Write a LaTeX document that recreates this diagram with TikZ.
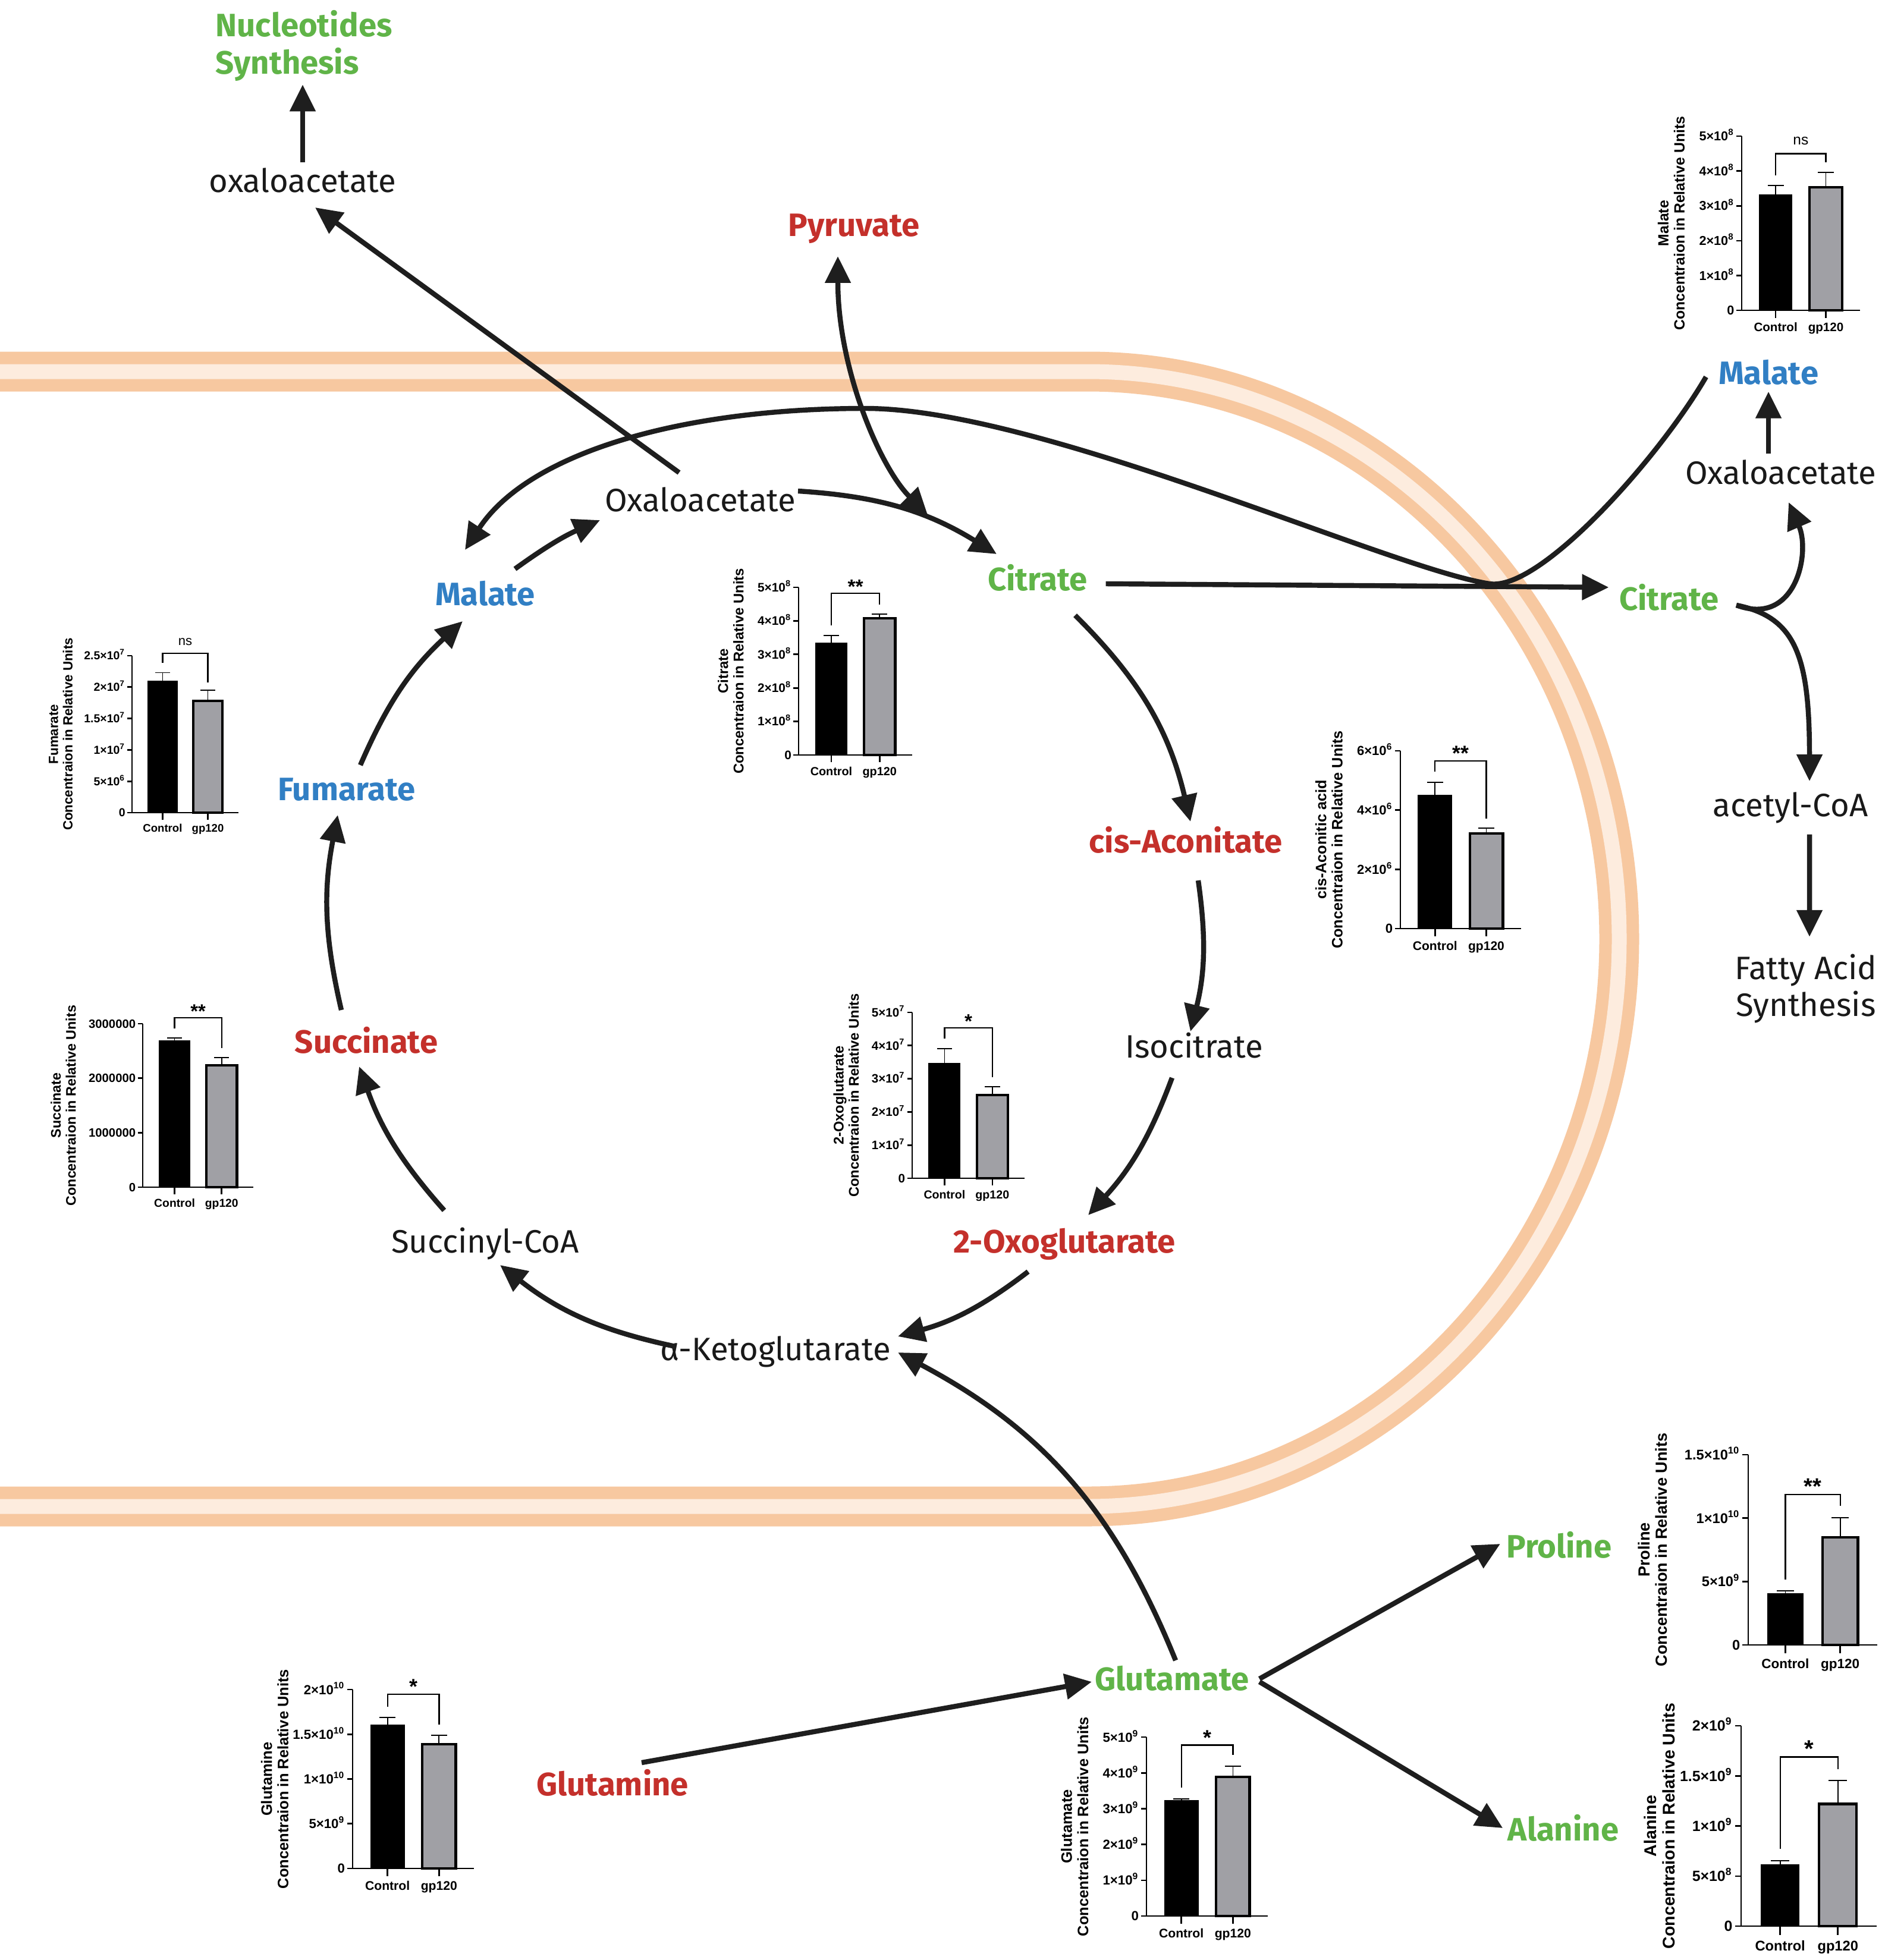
\documentclass[tikz,border=0pt]{standalone}
\usepackage{fontspec}
\setmainfont{Fira Sans}
\newfontfamily\chartfont{Liberation Sans}
\usepackage{tikz}
\usetikzlibrary{arrows.meta,calc,positioning}

\definecolor{metgrn}{RGB}{96,180,72}
\definecolor{metred}{RGB}{196,48,43}
\definecolor{metblu}{RGB}{49,127,196}
\definecolor{txtc}{RGB}{25,25,25}
\definecolor{arrc}{RGB}{30,30,30}
\definecolor{barg}{RGB}{160,160,165}
\definecolor{memb}{RGB}{247,200,160}
\definecolor{membin}{RGB}{253,236,222}

\newcommand{\metfont}{\fontsize{15.5}{17.9}\selectfont}
\newcommand{\tickfont}{\chartfont\fontsize{6.2}{7}\selectfont\bfseries}
\newcommand{\tenp}[1]{×10\textsuperscript{#1}}
\newcommand{\signs}{\fontsize{7}{7}\selectfont\raisebox{0.15cm}{ns}}
\newcommand{\sigst}[1]{\fontsize{10}{10}\selectfont\bfseries #1}

\tikzset{
  arr/.style={line width=2.4pt, draw=arrc, -{Triangle[length=0.45cm,width=0.42cm]}},
  arrboth/.style={arr, {Triangle[length=0.45cm,width=0.42cm]}-{Triangle[length=0.45cm,width=0.42cm]}},
  met/.style={font=\metfont, text=txtc, inner sep=0.05cm, text height=0.45cm, text depth=0.07cm},
  metg/.style={met, font=\metfont\bfseries, text=metgrn},
  metr/.style={met, font=\metfont\bfseries, text=metred},
  metb/.style={met, font=\metfont\bfseries, text=metblu},
  mettwo/.style={font=\metfont, text=txtc, inner sep=0.05cm, align=center},
  axisln/.style={line width=0.75pt},
  errln/.style={line width=0.5pt},
  brkln/.style={line width=0.65pt},
  ticklbl/.style={font=\tickfont, anchor=base east, inner sep=0pt, yshift=-2.2pt},
  xlbl/.style={font=\chartfont\fontsize{5.9}{7}\selectfont\bfseries, anchor=base, inner sep=0pt},
  ylbl/.style={font=\chartfont\fontsize{7.1}{7.7}\selectfont\bfseries, rotate=90, anchor=south, align=center, inner sep=0pt},
  siglbl/.style={font=\chartfont, anchor=base, inner sep=0pt},
}

% bar chart: origin, scale, metabolite, ymax, ticks, bars (ctrl/err/gp120/err), bracket (top/left/right), significance, title offset
\newcommand{\barchart}[9]{%
  \begin{scope}[shift={#1}, scale=#2, transform shape, y={(0,{2.95/#4})}]
    \foreach \tval/\tlab in {#5}{
      \draw[axisln] (-0.09,\tval) -- (0,\tval);
      \node[ticklbl] at (-0.12,\tval) {\tlab};
    }
    \draw[axisln] (0,#4) -- (0,0);
    \draw[axisln] (-0.09,0) -- (2.0,0);
    \foreach \xc/\xl in {0.575/Control,1.425/gp120}{
      \draw[axisln] (\xc,0) -- ++(0pt,-0.13cm);
      \node[xlbl] at ([yshift=-0.36cm]\xc,0) {\xl};
    }
    \foreach \ctl/\cte/\gpv/\gpe in {#6}{
      \fill[black] (0.29,0) rectangle (0.86,\ctl);
      \draw[errln] (0.575,\ctl) -- (0.575,\cte) (0.44,\cte) -- (0.71,\cte);
      \filldraw[fill=barg, line width=1.2pt] (1.15,0) rectangle (1.70,\gpv);
      \draw[errln] (1.425,\gpv) -- (1.425,\gpe) (1.29,\gpe) -- (1.56,\gpe);
    }
    \foreach \bk/\bl/\br in {#7}{
      \draw[brkln] (0.575,\bl) -- (0.575,\bk) -- (1.425,\bk) -- (1.425,\br);
      \node[siglbl] at (1.0,\bk) {#8};
    }
    \node[ylbl] at (#9,{#4/2}) {#3\\Concentraion in Relative Units};
  \end{scope}}

\begin{document}
\begin{tikzpicture}
  \useasboundingbox (0,0) rectangle (31.69,-32.97);
  \fill[white] (0,0) rectangle (31.69,-32.97);

  % mitochondrial membrane
  \draw[line width=0.67cm, draw=memb] (-0.5,-6.25) -- (18.29,-6.25)
    arc[start angle=90, end angle=-90, x radius=8.94, y radius=9.545] -- (-0.5,-25.34);
  \draw[line width=0.25cm, draw=membin] (-0.5,-6.25) -- (18.29,-6.25)
    arc[start angle=90, end angle=-90, x radius=8.94, y radius=9.545] -- (-0.5,-25.34);

  % metabolites
  \node[mettwo, font=\metfont\bfseries, text=metgrn, align=left, anchor=west] (nucl) at (3.57,-0.77) {Nucleotides\\Synthesis};
  \node[met] (oxaT) at (5.09,-3.05) {oxaloacetate};
  \node[metr] (pyr) at (14.36,-3.79) {Pyruvate};
  \node[metb] (malR) at (29.74,-6.27) {Malate};
  \node[met] (oxaR) at (29.95,-7.95) {Oxaloacetate};
  \node[metg] (citR) at (28.07,-10.07) {Citrate};
  \node[met] (acoa) at (30.11,-13.54) {acetyl-CoA};
  \node[mettwo] (fas) at (30.37,-16.63) {Fatty Acid\\Synthesis};
  \node[met] (oxaC) at (11.78,-8.41) {Oxaloacetate};
  \node[metg] (citC) at (17.45,-9.74) {Citrate};
  \node[metb] (malC) at (8.16,-9.99) {Malate};
  \node[metb] (fum) at (5.83,-13.27) {Fumarate};
  \node[metr] (cisA) at (19.94,-14.15) {cis-Aconitate};
  \node[met] (iso) at (20.08,-17.60) {Isocitrate};
  \node[metr] (succ) at (6.16,-17.52) {Succinate};
  \node[met] (sucoa) at (8.16,-20.88) {Succinyl-CoA};
  \node[metr] (oxo) at (17.90,-20.88) {2-Oxoglutarate};
  \node[met] (akg) at (13.04,-22.69) {α-Ketoglutarate};
  \node[metg] (pro) at (26.22,-26.01) {Proline};
  \node[metg] (glu) at (19.71,-28.24) {Glutamate};
  \node[metr] (gln) at (10.30,-30.01) {Glutamine};
  \node[metg] (ala) at (26.29,-30.77) {Alanine};
  \coordinate (pyrin) at (15.60,-8.66);

  % outside the cycle
  \draw[arr] (oxaT.north) -- (oxaT.north |- nucl.south);
  \draw[arr] ($(oxaC)+(-0.36,0.46)$) -- ($(oxaT)+(0.21,-0.44)$);
  \draw[arrboth] ($(pyr)+(-0.27,-0.52)$) .. controls +(0,-1.9) and +(-0.8,0.8) .. (pyrin);
  \draw[arr] ($(malR)+(-1.05,-0.07)$) .. controls (27.9,-7.7) and (25.9,-9.95) .. (25.05,-9.82)
    .. controls (23.35,-9.56) and (17.5,-6.87) .. (14.55,-6.87)
    .. controls (11.5,-6.87) and (8.9,-7.6) .. ($(malC)+(-0.34,0.74)$);
  \draw[arr] ($(citC.east)+(0.25,-0.08)$) -- ($(citR.west)+(-0.12,0.19)$);
  \draw[arr] ($(citR)+(1.13,-0.11)$) .. controls +(1.0,-0.37) and +(0.37,-0.85) .. ($(oxaR)+(0.13,-0.5)$);
  \draw[arr] ($(citR)+(1.13,-0.11)$) .. controls +(1.0,-0.2) and +(0,2.1) .. ($(acoa)+(0.32,0.40)$);
  \draw[arr] (oxaR.north -| malR) -- (malR.south);
  \draw[arr] ($(acoa.south)+(0.32,-0.18)$) -- ($(fas.north)+(0.06,0.23)$);

  % TCA cycle
  \draw[arr] ($(oxaC)+(1.64,0.15)$) to[bend left=14] ($(citC)+(-0.69,0.42)$);
  \draw[arr] ($(malC)+(0.5,0.42)$) to[bend left=6] ($(oxaC)+(-1.69,-0.34)$);
  \draw[arr] ($(citC)+(0.63,-0.61)$) to[bend left=16] ($(cisA)+(0.08,0.33)$);
  \draw[arr] ($(cisA)+(0.21,-0.66)$) to[bend left=11] ($(iso)+(-0.06,0.25)$);
  \draw[arr] ($(iso)+(-0.37,-0.53)$) to[bend left=11] ($(oxo)+(0.40,0.44)$);
  \draw[arr] ($(oxo)+(-0.61,-0.51)$) to[bend left=11] ($(akg)+(2.06,0.21)$);
  \draw[arr] ($(akg)+(-1.68,0.04)$) to[bend left=13] ($(sucoa)+(0.25,-0.40)$);
  \draw[arr] ($(sucoa)+(-0.69,0.52)$) to[bend left=11] ($(succ)+(-0.12,-0.42)$);
  \draw[arr] ($(succ)+(-0.42,0.53)$) to[bend left=12] ($(fum)+(-0.15,-0.44)$);
  \draw[arr] ($(fum)+(0.23,0.40)$) to[bend left=12] ($(malC)+(-0.38,-0.46)$);

  % amino acids
  \draw[arr] ($(gln)+(0.49,0.36)$) -- ($(glu)+(-1.35,-0.05)$);
  \draw[arr] ($(glu)+(0.06,0.31)$) to[bend right=20] ($(akg)+(2.06,-0.06)$);
  \draw[arr] ($(glu.east)+(0.12,0)$) -- ($(pro.west)+(-0.05,0.04)$);
  \draw[arr] ($(glu.east)+(0.12,-0.05)$) -- ($(ala.west)+(-0.03,0.02)$);

  % bar charts
  \barchart{(29.29,-5.22)}{0.993}{Malate}{5}{0/0,1/1\tenp8,2/2\tenp8,3/3\tenp8,4/4\tenp8,5/5\tenp8}{3.33/3.58/3.53/3.96}{4.5/3.87/4.25}{\signs}{-0.96}
  \barchart{(13.43,-12.70)}{0.956}{Citrate}{5}{0/0,1/1\tenp8,2/2\tenp8,3/3\tenp8,4/4\tenp8,5/5\tenp8}{3.35/3.56/4.08/4.20}{4.82/3.87/4.49}{\sigst{**}}{-0.96}
  \barchart{(2.22,-13.67)}{0.895}{Fumarate}{2.5}{0/0,0.5/5\tenp6,1/1\tenp7,1.5/1.5\tenp7,2/2\tenp7,2.5/2.5\tenp7}{2.10/2.23/1.78/1.95}{2.54/2.39/2.07}{\signs}{-1.11}
  \barchart{(23.55,-15.62)}{1.014}{cis-Aconitic acid}{6}{0/0,2/2\tenp6,4/4\tenp6,6/6\tenp6}{4.51/4.94/3.21/3.39}{5.66/5.30/3.71}{\sigst{**}}{-0.95}
  \barchart{(2.40,-19.97)}{0.932}{Succinate}{3}{0/0,1/1000000,2/2000000,3/3000000}{2.69/2.74/2.24/2.38}{3.11/2.91/2.55}{\sigst{**}}{-1.20}
  \barchart{(15.34,-19.82)}{0.946}{2-Oxoglutarate}{5}{0/0,1/1\tenp7,2/2\tenp7,3/3\tenp7,4/4\tenp7,5/5\tenp7}{3.48/3.91/2.51/2.76}{4.53/4.21/3.05}{\sigst{*}}{-0.94}
  \barchart{(29.40,-27.67)}{1.085}{Proline}{1.5}{0/0,0.5/5\tenp9,1/1\tenp{10},1.5/1.5\tenp{10}}{0.41/0.427/0.848/1.003}{1.186/0.516/1.097}{\sigst{**}}{-1.25}
  \barchart{(29.28,-32.40)}{1.142}{Alanine}{2}{0/0,0.5/5\tenp8,1/1\tenp9,1.5/1.5\tenp9,2/2\tenp9}{0.617/0.653/1.22/1.454}{1.69/0.77/1.57}{\sigst{*}}{-0.97}
  \barchart{(19.28,-32.23)}{1.02}{Glutamate}{5}{0/0,1/1\tenp9,2/2\tenp9,3/3\tenp9,4/4\tenp9,5/5\tenp9}{3.24/3.27/3.89/4.19}{4.78/3.59/4.50}{\sigst{*}}{-0.95}
  \barchart{(5.93,-31.43)}{1.02}{Glutamine}{2}{0/0,0.5/5\tenp9,1/1\tenp{10},1.5/1.5\tenp{10},2/2\tenp{10}}{1.61/1.69/1.39/1.49}{1.95/1.81/1.61}{\sigst{*}}{-1.05}
\end{tikzpicture}
\end{document}
